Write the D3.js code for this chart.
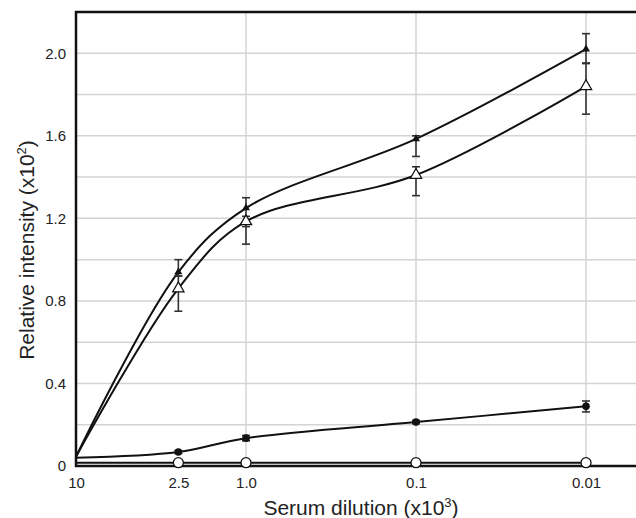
<!DOCTYPE html>
<html>
<head>
<meta charset="utf-8">
<script src="https://cdn.jsdelivr.net/npm/d3@7"></script>
<style>
  body { margin: 0; background: #fff; }
  svg text { font-family: "Liberation Sans", Arial, sans-serif; fill: #222; }
</style>
</head>
<body>
<svg id="chart" width="636" height="518"></svg>
<script>
// serum dilution (x10^3)
var dilutions = [10, 2.5, 1.0, 0.1, 0.01];
var xTickLabels = ["10", "2.5", "1.0", "0.1", "0.01"];
var xGridValues = [1.0, 0.1, 0.01];
var yTickValues = [0, 0.4, 0.8, 1.2, 1.6, 2.0];
var yTickLabels = ["0", "0.4", "0.8", "1.2", "1.6", "2.0"];
var yGridValues = [0.2, 0.4, 0.6, 0.8, 1.0, 1.2, 1.4, 1.6, 1.8, 2.0];

// relative intensity (x10^2)
var filledTri = [0.045, 0.94, 1.25, 1.585, 2.02];
var filledTriHi = [null, 1.0, 1.30, 1.60, 2.095];
var filledTriLo = [null, 0.92, 1.16, 1.50, 1.953];

var openTri = [0.045, 0.86, 1.185, 1.41, 1.84];
var openTriHi = [null, 0.92, 1.21, 1.45, 1.95];
var openTriLo = [null, 0.75, 1.075, 1.31, 1.705];

var filledCirc = [0.04, 0.068, 0.135, 0.213, 0.289];
var filledCircHi = [null, 0.075, 0.148, 0.221, 0.315];
var filledCircLo = [null, 0.061, 0.122, 0.205, 0.262];

var openCirc = [0.016, 0.016, 0.016, 0.016, 0.016];

var svg = d3.select("#chart");
var x = d3.scaleLog().domain([10, 0.01]).range([76, 586]);
var y = d3.scaleLinear().domain([0, 2.2]).range([466, 12]);
var right = 636;

// grid
svg.append("g").selectAll("line")
    .data(yGridValues).enter().append("line")
    .attr("x1", x(10)).attr("x2", right)
    .attr("y1", function(d) { return y(d); })
    .attr("y2", function(d) { return y(d); })
    .attr("stroke", "#d4d4d4").attr("stroke-width", 1.5);

svg.append("g").selectAll("line")
    .data(xGridValues).enter().append("line")
    .attr("x1", function(d) { return x(d); })
    .attr("x2", function(d) { return x(d); })
    .attr("y1", y(2.2)).attr("y2", y(0))
    .attr("stroke", "#d4d4d4").attr("stroke-width", 1.5);

// frame: left, top, bottom
svg.append("path")
    .attr("d", "M" + right + "," + y(2.2) + "H" + x(10) + "V" + y(0) + "H" + right)
    .attr("fill", "none").attr("stroke", "#111").attr("stroke-width", 2.5);

// tick labels via d3 axes (no domain line, no tick marks)
var xAxis = svg.append("g")
    .attr("transform", "translate(0," + y(0) + ")")
    .call(d3.axisBottom(x).tickValues(dilutions)
        .tickFormat(function(d, i) { return xTickLabels[i]; })
        .tickSize(0).tickPadding(11));
xAxis.select(".domain").remove();
xAxis.selectAll("text").attr("font-size", 15).attr("fill", "#222")
    .style("font-family", "Liberation Sans, Arial, sans-serif");

var yAxis = svg.append("g")
    .attr("transform", "translate(" + x(10) + ",0)")
    .call(d3.axisLeft(y).tickValues(yTickValues)
        .tickFormat(function(d, i) { return yTickLabels[i]; })
        .tickSize(0).tickPadding(10));
yAxis.select(".domain").remove();
yAxis.selectAll("text").attr("font-size", 15).attr("fill", "#222")
    .style("font-family", "Liberation Sans, Arial, sans-serif");

// titles
var xt = svg.append("text")
    .attr("x", 361).attr("y", 515)
    .attr("text-anchor", "middle").attr("font-size", 21);
xt.append("tspan").text("Serum dilution (x10");
xt.append("tspan").attr("dy", -8).attr("font-size", 13).text("3");
xt.append("tspan").attr("dy", 8).text(")");

var yt = svg.append("text")
    .attr("transform", "translate(34,250) rotate(-90)")
    .attr("text-anchor", "middle").attr("font-size", 21);
yt.append("tspan").text("Relative intensity (x10");
yt.append("tspan").attr("dy", -8).attr("font-size", 13).text("2");
yt.append("tspan").attr("dy", 8).text(")");

var line = d3.line()
    .x(function(d) { return x(d[0]); })
    .y(function(d) { return y(d[1]); })
    .curve(d3.curveCatmullRom.alpha(0.5));

function pts(vals) {
    return dilutions.map(function(d, i) { return [d, vals[i]]; });
}

var series = [filledTri, openTri, filledCirc, openCirc];
series.forEach(function(vals) {
    svg.append("path")
        .attr("d", line(pts(vals)))
        .attr("fill", "none").attr("stroke", "#111").attr("stroke-width", 2);
});

// error bars
function errorBars(hi, lo) {
    var g = svg.append("g").attr("stroke", "#333").attr("stroke-width", 1.6);
    dilutions.forEach(function(d, i) {
        if (hi[i] == null) return;
        var cx = x(d);
        g.append("line").attr("x1", cx).attr("x2", cx).attr("y1", y(hi[i])).attr("y2", y(lo[i]));
        g.append("line").attr("x1", cx - 4).attr("x2", cx + 4).attr("y1", y(hi[i])).attr("y2", y(hi[i]));
        g.append("line").attr("x1", cx - 4).attr("x2", cx + 4).attr("y1", y(lo[i])).attr("y2", y(lo[i]));
    });
}
errorBars(openTriHi, openTriLo);
errorBars(filledTriHi, filledTriLo);
errorBars(filledCircHi, filledCircLo);

var markPts = function(vals) { return pts(vals).slice(1); };

// markers
svg.append("g").selectAll("path")
    .data(markPts(openTri)).enter().append("path")
    .attr("d", d3.symbol().type(d3.symbolTriangle).size(55)())
    .attr("transform", function(d) { return "translate(" + x(d[0]) + "," + y(d[1]) + ")"; })
    .attr("fill", "#fff").attr("stroke", "#111").attr("stroke-width", 1.3);

svg.append("g").selectAll("path")
    .data(markPts(filledTri)).enter().append("path")
    .attr("d", d3.symbol().type(d3.symbolTriangle).size(28)())
    .attr("transform", function(d) { return "translate(" + x(d[0]) + "," + y(d[1]) + ")"; })
    .attr("fill", "#111");

svg.append("g").selectAll("circle")
    .data(markPts(filledCirc)).enter().append("circle")
    .attr("cx", function(d) { return x(d[0]); })
    .attr("cy", function(d) { return y(d[1]); })
    .attr("r", 3.8).attr("fill", "#111");

svg.append("g").selectAll("circle")
    .data(markPts(openCirc)).enter().append("circle")
    .attr("cx", function(d) { return x(d[0]); })
    .attr("cy", function(d) { return y(d[1]); })
    .attr("r", 5).attr("fill", "#fff").attr("stroke", "#111").attr("stroke-width", 1.3);
</script>
</body>
</html>
